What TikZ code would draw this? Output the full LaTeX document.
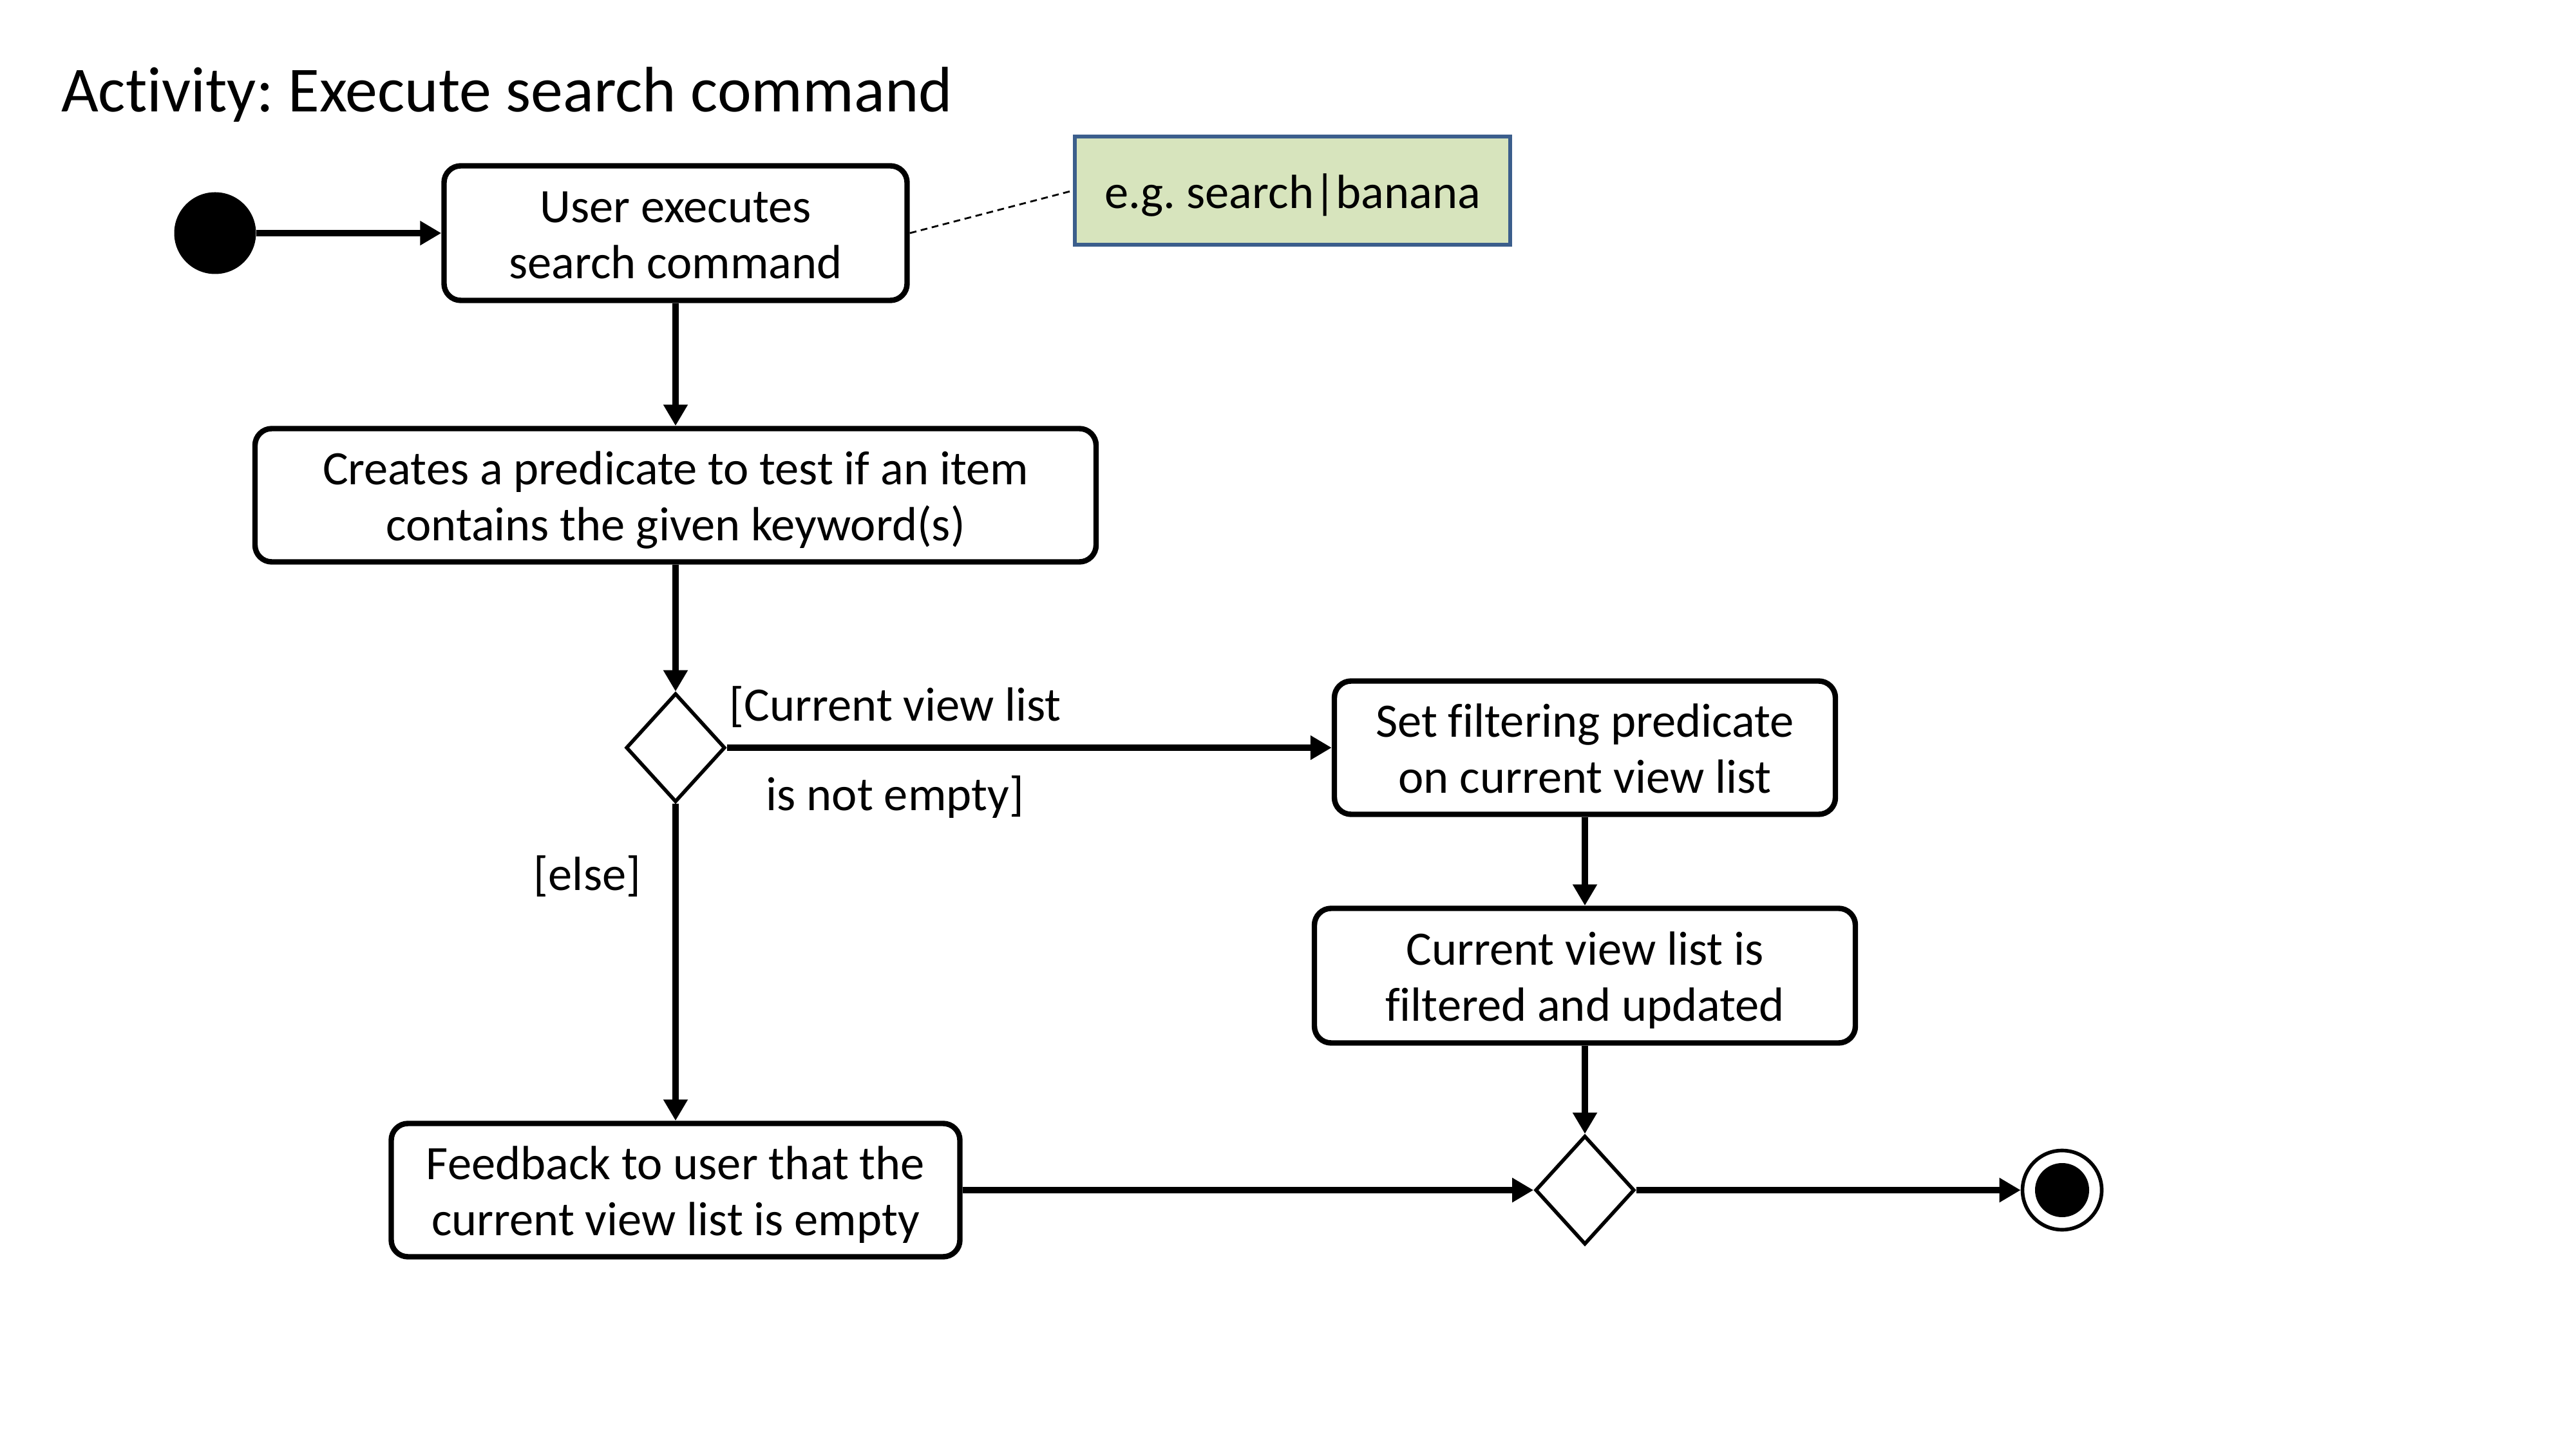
\documentclass[tikz,border=0pt]{standalone}
\usepackage{fontspec}
\setmainfont{Carlito}[Ligatures=CommonOff]
\frenchspacing
\usetikzlibrary{shapes.geometric,arrows.meta}
\definecolor{notegreen}{HTML}{D7E4BD}
\definecolor{noteblue}{HTML}{3B5E8C}
\tikzset{>={Triangle[length=0.33cm,width=0.36cm]}}
\tikzset{
  action/.style={rectangle,rounded corners=0.26cm,draw=black,line width=2.4pt,align=center,inner sep=0pt,text height=48.4pt,text depth=8pt,font=\fontsize{21.2}{24.9}\selectfont},
  decision/.style={diamond,draw=black,line width=1.6pt,inner sep=0pt,minimum width=1.54cm,minimum height=1.69cm},
  guard/.style={inner sep=0pt,font=\fontsize{21.2}{24.9}\selectfont},
  flow/.style={->,line width=2.8pt}
}

\begin{document}
\begin{tikzpicture}
\useasboundingbox (0,0) rectangle (40,-22.5);
\node[anchor=base west,inner sep=0pt,font=\fontsize{28.4}{34}\selectfont] (title) at (0.945,-1.74) {Activity: Execute search command};
\node[circle,fill=black,inner sep=0pt,minimum size=1.27cm] (start) at (3.34,-3.62) {};
\node[action,minimum width=7.19cm,minimum height=2.09cm] (userexec) at (10.49,-3.62) {User executes\\search command};
\node[rectangle,draw=noteblue,fill=notegreen,line width=1.8pt,inner sep=0pt,minimum width=6.76cm,minimum height=1.68cm,text height=20pt,text depth=4.6pt,font=\fontsize{21.2}{24.9}\selectfont] (note) at (20.07,-2.96) {e.g. search|banana};
\node[action,minimum width=13.06cm,minimum height=2.07cm] (predicate) at (10.49,-7.69) {Creates a predicate to test if an item\\contains the given keyword(s)};
\node[decision] (check) at (10.49,-11.61) {};
\node[action,minimum width=7.78cm,minimum height=2.07cm] (setfilter) at (24.61,-11.61) {Set filtering predicate\\on current view list};
\node[action,minimum width=8.40cm,minimum height=2.09cm] (updated) at (24.61,-15.15) {Current view list is\\filtered and updated};
\node[action,minimum width=8.83cm,minimum height=2.07cm] (feedback) at (10.49,-18.48) {Feedback to user that the\\current view list is empty};
\node[decision] (merge) at (24.61,-18.48) {};
\node[circle,draw=black,line width=1.6pt,inner sep=0pt,minimum size=1.23cm] (stop) at (32.02,-18.48) {};
\node[circle,fill=black,inner sep=0pt,minimum size=0.84cm] (stopdot) at (stop) {};
\node[guard,anchor=base west] (notempty1) at (11.32,-11.20) {[Current view list};
\node[guard,anchor=base west] (notempty2) at (11.89,-12.59) {is not empty]};
\node[guard] (else) at (9.12,-13.61) {[else]};
\path [draw,flow] (start) edge (userexec);
\path [draw,flow] (userexec) edge (predicate);
\path [draw,flow] (predicate) edge (check);
\path [draw,flow] (check) edge (setfilter);
\path [draw,flow] (check) edge (feedback);
\path [draw,flow] (setfilter) edge (updated);
\path [draw,flow] (updated) edge (merge);
\path [draw,flow] (feedback) edge (merge);
\path [draw,flow] (merge) edge (stop);
\draw[densely dashed,line width=0.8pt] (userexec.east) -- (note.west);
\end{tikzpicture}
\end{document}
